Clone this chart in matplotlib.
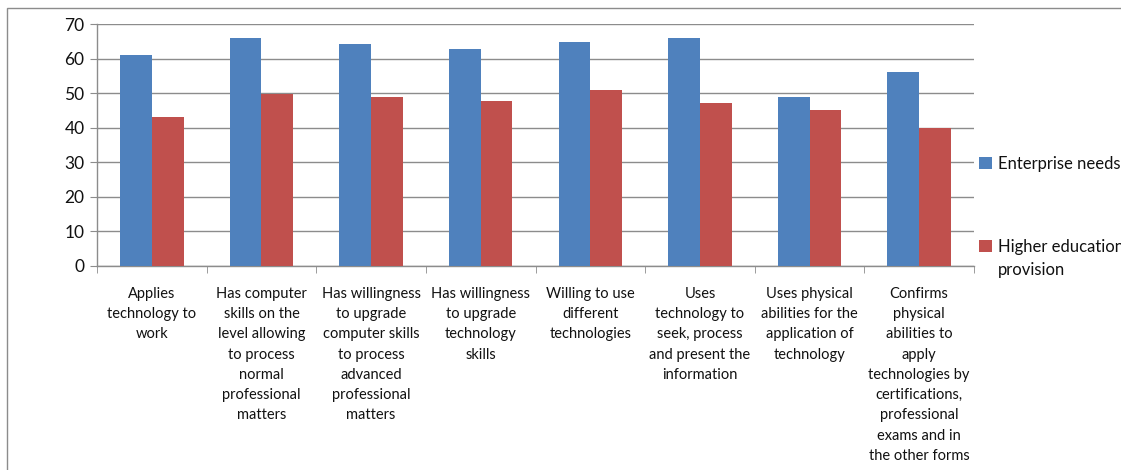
import matplotlib
matplotlib.use("Agg")
import matplotlib.pyplot as plt
import numpy as np
from matplotlib.patches import Rectangle

plt.rcParams['font.family'] = ['Lato', 'DejaVu Sans']

categories = [
    "Applies\ntechnology to\nwork",
    "Has computer\nskills on the\nlevel allowing\nto process\nnormal\nprofessional\nmatters",
    "Has willingness\nto upgrade\ncomputer skills\nto process\nadvanced\nprofessional\nmatters",
    "Has willingness\nto upgrade\ntechnology\nskills",
    "Willing to use\ndifferent\ntechnologies",
    "Uses\ntechnology to\nseek, process\nand present the\ninformation",
    "Uses physical\nabilities for the\napplication of\ntechnology",
    "Confirms\nphysical\nabilities to\napply\ntechnologies by\ncertifications,\nprofessional\nexams and in\nthe other forms",
]
enterprise_needs = [61, 66, 64.2, 62.8, 64.8, 66, 49, 56]
higher_education = [43.1, 49.8, 48.9, 47.7, 50.9, 47.2, 45.1, 40]
series_names = ["Enterprise needs", "Higher education", "provision"]
y_ticks = [0, 10, 20, 30, 40, 50, 60, 70]

W, H = 1121, 470
fig = plt.figure(figsize=(W / 100, H / 100), dpi=100)
ax = fig.add_axes([97 / W, 1 - 266 / H, (974 - 97) / W, (266 - 24) / H])

# outer chart frame
fig.patches.append(Rectangle((7 / W, -0.1), 1.2, 1 - 8 / H + 0.1, transform=fig.transFigure,
                             fill=False, edgecolor="#8c8c8c", linewidth=1.0))

x = np.arange(len(categories))
bw = 0.29
ax.bar(x - bw / 2, enterprise_needs, bw, color="#4F81BD", label=series_names[0], zorder=3)
ax.bar(x + bw / 2, higher_education, bw, color="#C0504D", label=series_names[1], zorder=3)

ax.set_xlim(-0.5, len(categories) - 0.5)
ax.set_ylim(0, 70)
ax.set_yticks(y_ticks)
ax.yaxis.grid(True, color="#8c8c8c", linewidth=1.0, zorder=0)
ax.set_axisbelow(True)

ax.set_xticks(x)
ax.set_xticklabels(categories, fontsize=10.5, linespacing=1.57, color="#111111", va="top")
ax.tick_params(axis="x", length=0, pad=15)
ax.set_xticks(np.arange(-0.5, len(categories)), minor=True)
ax.tick_params(axis="x", which="minor", length=5, color="#8c8c8c", direction="out")
ax.tick_params(axis="y", length=5, color="#8c8c8c", labelsize=12.5, labelcolor="#111111", pad=4)

for s in ["top", "right"]:
    ax.spines[s].set_visible(False)
for s in ["left", "bottom"]:
    ax.spines[s].set_color("#8c8c8c")
    ax.spines[s].set_linewidth(1.0)

leg = ax.legend(loc="upper left", bbox_to_anchor=(979 / W, 1 - 156 / H), bbox_transform=fig.transFigure,
                frameon=False, fontsize=12, handlelength=0.75, handleheight=0.75,
                handletextpad=0.4, labelspacing=4.0, borderaxespad=0, borderpad=0)
for t in leg.get_texts():
    t.set_color("#111111")

# second line of the second legend entry, placed under its first line
fig.canvas.draw()
bb = leg.get_texts()[1].get_window_extent()
fig.text(bb.x0 / W, (bb.y0 - 7) / H, series_names[2], fontsize=12, color="#111111",
         ha="left", va="top")

fig.savefig("out.png", dpi=100)
